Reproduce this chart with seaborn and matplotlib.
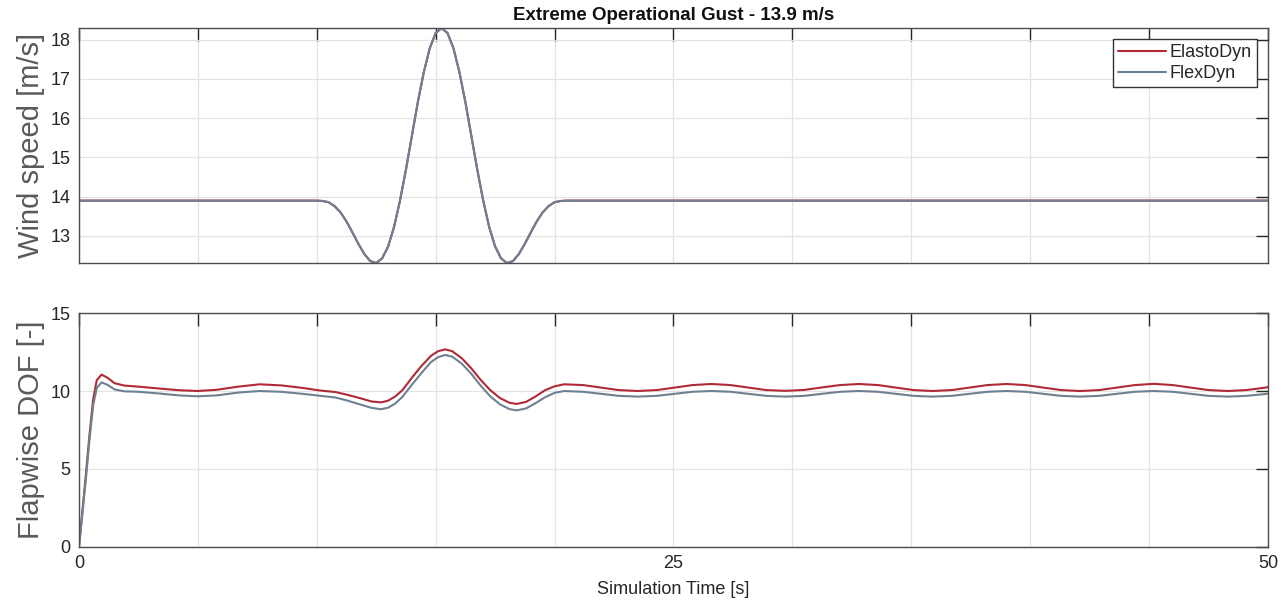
import matplotlib
matplotlib.use("Agg")
import matplotlib.pyplot as plt
import seaborn as sns
import pandas as pd

# ---------------- data ----------------
t_wind = [0.0, 10.0, 10.25, 10.5, 10.75, 11.0, 11.25, 11.5, 11.75, 12.0, 12.25, 12.5, 12.75,
          13.0, 13.25, 13.5, 13.75, 14.0, 14.25, 14.5, 14.75, 15.0, 15.25, 15.5, 15.75, 16.0,
          16.25, 16.5, 16.75, 17.0, 17.25, 17.5, 17.75, 18.0, 18.25, 18.5, 18.75, 19.0, 19.25,
          19.5, 19.75, 20.0, 20.25, 20.5, 50.0]
wind_elasto = [13.90, 13.90, 13.89, 13.86, 13.76, 13.60, 13.37, 13.09, 12.80, 12.54, 12.36, 12.31,
               12.43, 12.73, 13.23, 13.90, 14.69, 15.55, 16.41, 17.17, 17.78, 18.17, 18.30, 18.17,
               17.78, 17.17, 16.41, 15.55, 14.69, 13.90, 13.23, 12.73, 12.43, 12.31, 12.36, 12.54,
               12.80, 13.09, 13.37, 13.60, 13.76, 13.86, 13.89, 13.90, 13.90]
wind_flex = [13.90, 13.90, 13.89, 13.86, 13.76, 13.60, 13.37, 13.09, 12.80, 12.54, 12.36, 12.31,
             12.43, 12.73, 13.23, 13.90, 14.69, 15.55, 16.41, 17.17, 17.78, 18.17, 18.30, 18.17,
             17.78, 17.17, 16.41, 15.55, 14.69, 13.90, 13.23, 12.73, 12.43, 12.31, 12.36, 12.54,
             12.80, 13.09, 13.37, 13.60, 13.76, 13.86, 13.89, 13.90, 13.90]

t_flap = [0.0, 0.15, 0.3, 0.45, 0.6, 0.75, 0.95, 1.2, 1.5, 1.9, 2.5, 3.3, 4.2, 5.0, 5.8, 6.7,
          7.6, 8.5, 9.4, 10.1, 10.8, 11.3, 11.8, 12.3, 12.7, 13.0, 13.3, 13.6, 14.0, 14.4, 14.8,
          15.1, 15.4, 15.7, 16.1, 16.5, 16.9, 17.3, 17.7, 18.1, 18.4, 18.8, 19.2, 19.6, 20.0,
          20.4, 21.2, 21.95, 22.7, 23.5, 24.3, 25.05, 25.8, 26.6, 27.4, 28.15, 28.9, 29.7, 30.5,
          31.25, 32.0, 32.8, 33.6, 34.35, 35.1, 35.9, 36.7, 37.45, 38.2, 39.0, 39.8, 40.55, 41.3,
          42.1, 42.9, 43.65, 44.4, 45.2, 46.0, 46.75, 47.5, 48.3, 49.1, 49.85, 50.0]
flap_elasto = [0.0, 2.4, 4.8, 7.3, 9.5, 10.7, 11.05, 10.85, 10.5, 10.35, 10.28, 10.17, 10.05,
               10.0, 10.08, 10.28, 10.43, 10.36, 10.2, 10.04, 9.93, 9.75, 9.55, 9.33, 9.27,
               9.38, 9.65, 10.05, 10.85, 11.6, 12.25, 12.55, 12.67, 12.55, 12.1, 11.45, 10.7,
               10.05, 9.55, 9.25, 9.17, 9.3, 9.65, 10.05, 10.3, 10.43, 10.38, 10.22, 10.06, 10.0,
               10.06, 10.22, 10.38, 10.45, 10.38, 10.22, 10.06, 10.01, 10.07, 10.23, 10.38,
               10.45, 10.38, 10.22, 10.06, 10.0, 10.06, 10.22, 10.38, 10.45, 10.38, 10.22,
               10.06, 10.0, 10.06, 10.22, 10.38, 10.46, 10.38, 10.22, 10.06, 10.0, 10.06, 10.21,
               10.25]
flap_flex = [0.0, 2.2, 4.5, 7.0, 9.1, 10.2, 10.55, 10.4, 10.1, 9.98, 9.95, 9.85, 9.72, 9.66,
             9.72, 9.9, 10.0, 9.95, 9.82, 9.7, 9.58, 9.38, 9.15, 8.92, 8.83, 8.93, 9.2, 9.62,
             10.4, 11.15, 11.85, 12.17, 12.31, 12.2, 11.75, 11.1, 10.33, 9.65, 9.15, 8.84, 8.76,
             8.88, 9.22, 9.6, 9.88, 10.0, 9.95, 9.82, 9.69, 9.64, 9.69, 9.82, 9.95, 10.0, 9.95,
             9.82, 9.69, 9.64, 9.69, 9.82, 9.95, 10.0, 9.95, 9.82, 9.69, 9.64, 9.69, 9.82, 9.95,
             10.0, 9.95, 9.82, 9.69, 9.64, 9.69, 9.82, 9.95, 10.0, 9.95, 9.82, 9.69, 9.64, 9.69,
             9.8, 9.83]

series_names = ["ElastoDyn", "FlexDyn"]
colors = {"ElastoDyn": "#b02a36", "FlexDyn": "#6e8192"}
x_ticklabels = ["0", "", "", "", "", "25", "", "", "", "", "50"]

# ---------------- style ----------------
sns.set_theme(style="white")
plt.rcParams["font.family"] = ["Liberation Sans", "DejaVu Sans"]

wind_df = pd.DataFrame({"t": t_wind, "ElastoDyn": wind_elasto, "FlexDyn": wind_flex})
flap_df = pd.DataFrame({"t": t_flap, "ElastoDyn": flap_elasto, "FlexDyn": flap_flex})

fig = plt.figure(figsize=(12.84, 6.03), dpi=100)
ax1 = fig.add_axes([0.0615, 0.5638, 0.926, 0.3898])
ax2 = fig.add_axes([0.0615, 0.0929, 0.926, 0.3880])

for name in series_names:
    sns.lineplot(data=wind_df, x="t", y=name, ax=ax1, color=colors[name], lw=1.5, label=name)
    sns.lineplot(data=flap_df, x="t", y=name, ax=ax2, color=colors[name], lw=1.5, legend=False)

xticks = list(range(0, 51, 5))
spine_col = "#4d4d4d"
grid_col = "#e3e3e3"
tick_col = "#262626"

for ax in (ax1, ax2):
    ax.set_xlim(0, 50)
    ax.set_xticks(xticks)
    ax.grid(True, color=grid_col, lw=0.9)
    ax.set_axisbelow(True)
    ax.tick_params(direction="in", top=True, right=True, length=9, width=1.0,
                   color=tick_col, labelsize=13, labelcolor=tick_col, pad=6)
    for s in ax.spines.values():
        s.set_color(spine_col)
        s.set_linewidth(1.0)

ax1.set_ylim(min(wind_flex), max(wind_flex))
ax1.set_yticks([13, 14, 15, 16, 17, 18])
ax1.set_xticklabels([""] * len(xticks))
ax1.set_xlabel("")
ax1.set_ylabel("Wind speed [m/s]", fontsize=21, color="#5a5a5a", labelpad=4)
ax1.set_title("Extreme Operational Gust - 13.9 m/s", fontsize=13.5, fontweight="bold",
              color="#111111", pad=6)

ax2.set_ylim(0, 15)
ax2.set_yticks([0, 5, 10, 15])
ax2.set_xticklabels(x_ticklabels)
ax2.set_xlabel("Simulation Time [s]", fontsize=13, color=tick_col, labelpad=6)
ax2.set_ylabel("Flapwise DOF [-]", fontsize=21, color="#5a5a5a", labelpad=4)

handles, labels = ax1.get_legend_handles_labels()
leg = ax1.legend(handles, labels, loc="upper right", fontsize=13, frameon=True, fancybox=False,
                 edgecolor="#333333", framealpha=1.0, handlelength=2.65, handletextpad=0.2,
                 borderaxespad=0.6, borderpad=0.3, labelspacing=0.2)
leg.get_frame().set_linewidth(1.0)

fig.savefig("out.png", dpi=100)
